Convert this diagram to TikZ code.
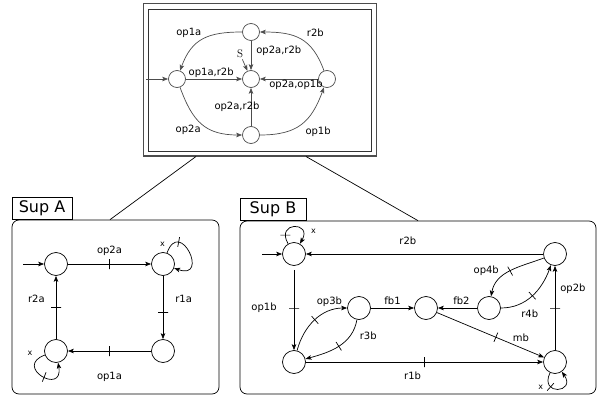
\documentclass[tikz,border=0pt]{standalone}
\usepackage{fontspec}
\setsansfont{DejaVu Sans}
\usetikzlibrary{arrows.meta, positioning, calc}

\begin{document}
\begin{tikzpicture}[
        x=1pt, y=1pt, line width=0.7pt,
        state/.style={circle, draw, minimum size=23pt, inner sep=0pt},
        tstate/.style={circle, draw=black!70, minimum size=17pt, inner sep=0pt},
        arrow/.style={-{Stealth[length=6pt, width=4.5pt, inset=1.5pt]}},
        tarrow/.style={arrow, draw=black!70},
        lbl/.style={font=\sffamily\fontsize{10}{12}\selectfont, inner sep=1pt},
        xlbl/.style={font=\sffamily\fontsize{8}{9}\selectfont, inner sep=1pt},
        tickmark/.style={draw, sloped, rectangle, minimum width=0pt, minimum height=10pt, inner sep=0pt},
        supbox/.style={draw, rounded corners=7pt, minimum width=207pt, minimum height=174pt},
        suptab/.style={draw, anchor=south west, font=\sffamily\fontsize{16}{18}\selectfont, minimum height=22pt, inner ysep=0pt}
    ]
        \useasboundingbox (0,0) rectangle (597,397);

        % Overview: product automaton
        \node[draw=black!70, line width=1pt, minimum width=233pt, minimum height=152pt] (overview) at (259.5,317) {};
        \node[draw=black!80, minimum width=223pt, minimum height=142pt] (overin) at (overview.center) {};
        \node[tstate] (tl) at (177,318) {};
        \node[tstate] (tc) at (251,318) {};
        \node[tstate] (tt) at (251,365) {};
        \node[tstate] (tb) at (251,262) {};
        \node[tstate] (tr) at (327,318) {};
        \node[font=\fontsize{11}{12}\selectfont, inner sep=1pt] (s) at (240,343) {S};
        \coordinate (tin) at (146,318);

        \draw[tarrow] (tin) -- (tl);
        \draw[tarrow] (s) -- (tc);
        \draw[tarrow] (tl) -- node[lbl, above, pos=.45] {op1a,r2b} (tc);
        \draw[tarrow] (tt) -- node[lbl, right=4pt, pos=.35] {op2a,r2b} (tc);
        \draw[tarrow] (tr) -- node[lbl, below, pos=.38] {op2a,op1b} (tc);
        \draw[tarrow] (tb) -- node[lbl, xshift=-14pt] {op2a,r2b} (tc);
        \draw[tarrow] (tt) to[out=180, in=70, looseness=1.2] node[lbl, above left] {op1a} (tl);
        \draw[tarrow] (tl) to[out=-70, in=180, looseness=1.2] node[lbl, below left] {op2a} (tb);
        \draw[tarrow] (tb) to[out=0, in=-110, looseness=1.2] node[lbl, below right=1pt and 3pt] {op1b} (tr);
        \draw[tarrow] (tr) to[out=110, in=0, looseness=1.2] node[lbl, above right=1pt and 5pt] {r2b} (tt);

        % Sup A
        \node[supbox] (supa) at (115.5,90) {};
        \node[suptab, minimum width=60pt] (taba) at (supa.north west) {Sup A};
        \node[state] (a1) at (56,133) {};
        \node[state] (a2) at (163,133) {};
        \node[state] (a3) at (163,46) {};
        \node[state] (a4) at (56,46) {};
        \coordinate (ain) at (23,133);

        \draw[arrow] (ain) -- (a1);
        \draw[arrow] (a1) -- node[tickmark] {} node[lbl, above=7pt] {op2a} (a2);
        \draw[arrow] (a2) -- node[tickmark, pos=.58] {} node[lbl, right=11pt, pos=.37] {r1a} (a3);
        \draw[arrow] (a3) -- node[tickmark] {} node[lbl, below=20pt] {op1a} (a4);
        \draw[arrow] (a4) -- node[tickmark] {} node[lbl, left=10pt, pos=.63] {r2a} (a1);
        \draw[arrow] (a2) to[out=70, in=-20, min distance=38pt] node[tickmark, pos=.25] {} node[xlbl, pos=.12, left=6pt] {x} (a2);
        \draw[arrow] (a4) to[out=200, in=-80, min distance=34pt] node[tickmark, pos=.55] {} node[xlbl, pos=.1, above left=2pt and 4pt] {x} (a4);

        % Sup B
        \node[supbox, minimum width=356pt, minimum height=173pt] (supb) at (418,89.5) {};
        \node[suptab, minimum width=66pt] (tabb) at (supb.north west) {Sup B};
        \node[state] (b1) at (294,143) {};
        \node[state] (b2) at (294,35) {};
        \node[state] (b3) at (359,89) {};
        \node[state] (b4) at (426,89) {};
        \node[state] (b5) at (489,89) {};
        \node[state] (b6) at (555,143) {};
        \node[state] (b7) at (555,35) {};
        \coordinate (bin) at (262,143);

        \draw[arrow] (bin) -- (b1);
        \draw[arrow] (b6) -- node[lbl, above=8pt, pos=.57] {r2b} (b1);
        \draw[arrow, shorten <=4pt] (b1) -- node[tickmark] {} node[lbl, left=16pt] {op1b} (b2);
        \draw[arrow] (b2) -- node[tickmark] {} node[lbl, below=9pt, pos=.45] {r1b} (b7);
        \draw[arrow] (b7) -- node[tickmark] {} node[lbl, right=4pt, pos=.73] {op2b} (b6);
        \draw[arrow] (b4) -- node[tickmark, pos=.55] {} node[lbl, above right=1pt, pos=.69] {mb} (b7);
        \draw[arrow] (b3) -- node[lbl, above=2pt] {fb1} (b4);
        \draw[arrow] (b5) -- node[lbl, above=2pt, pos=.4] {fb2} (b4);
        \draw[arrow] (b2) to[out=75, in=180] node[tickmark] {} node[lbl, above=3pt, pos=.75] {op3b} (b3);
        \draw[arrow] (b3) to[out=-100, in=15] node[tickmark] {} node[lbl, right=8pt, pos=.25] {r3b} (b2);
        \draw[arrow] (b6) to[out=200, in=80] node[tickmark] {} node[lbl, left=10pt] {op4b} (b5);
        \draw[arrow] (b5) to[out=0, in=-110] node[tickmark] {} node[lbl, below=11pt, pos=.45] {r4b} (b6);
        \draw[arrow] (b1) to[out=120, in=60, min distance=26pt] node[tickmark, pos=.15] {} node[xlbl, pos=.75, right=8pt] {x} (b1);
        \draw[arrow] (b7) to[out=-115, in=-55, min distance=26pt] node[tickmark, pos=.3] {} node[xlbl, pos=.3, left=6pt] {x} (b7);

        % Links from overview to supervisors
        \draw ([xshift=-63.5pt]overview.south) -- ([xshift=-5.5pt]supa.north);
        \draw ([xshift=46.5pt]overview.south) -- (supb.north);
    \end{tikzpicture}
\end{document}
